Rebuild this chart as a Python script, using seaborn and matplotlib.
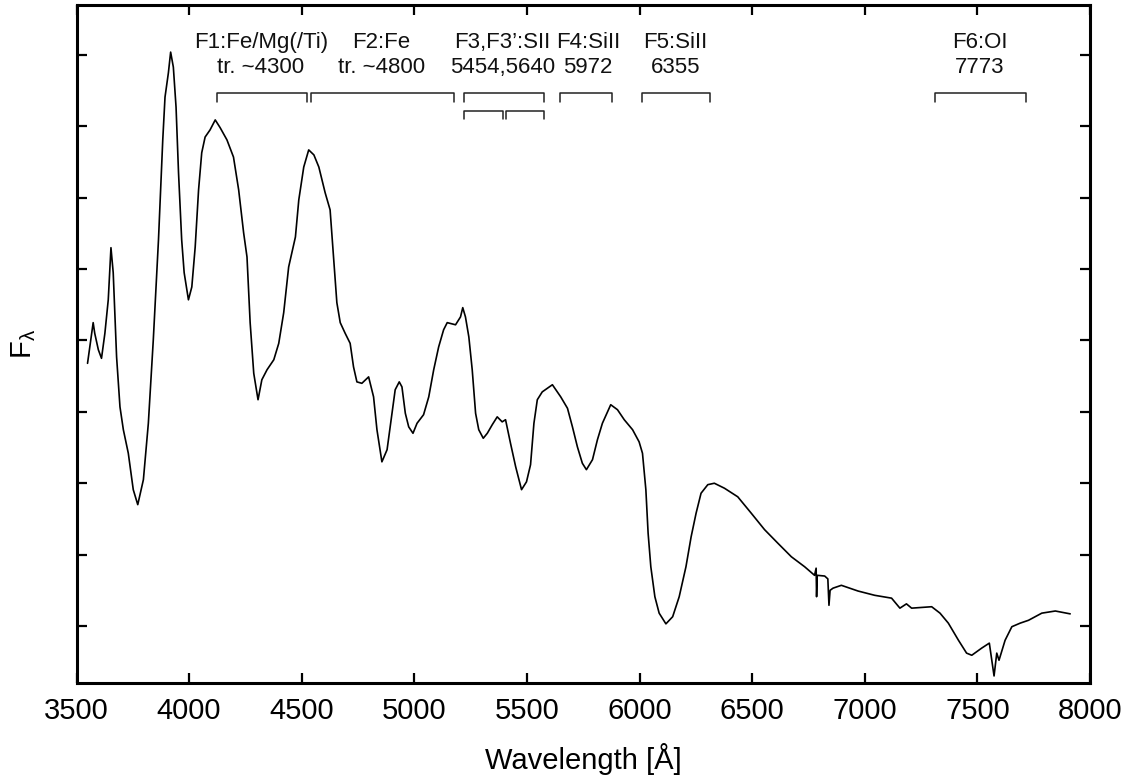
import numpy as np
import pandas as pd
import matplotlib
matplotlib.use("Agg")
import matplotlib.pyplot as plt
import seaborn as sns

# ---------------- data ----------------
wavelength = [3549, 3559, 3574, 3581, 3597, 3611, 3626, 3641, 3653, 3663,
              3678, 3693, 3708, 3730, 3752, 3772, 3797, 3819, 3841, 3864,
              3883, 3893, 3908, 3918, 3930, 3942, 3953, 3967, 3978, 3997,
              4012, 4027, 4042, 4056, 4071, 4093, 4116, 4138, 4168, 4197,
              4220, 4242, 4257, 4271, 4287, 4306, 4323, 4346, 4376, 4398,
              4420, 4442, 4472, 4487, 4509, 4531, 4554, 4576, 4604, 4626,
              4641, 4656, 4671, 4693, 4715, 4730, 4745, 4767, 4797, 4819,
              4834, 4856, 4879, 4901, 4915, 4933, 4945, 4960, 4975, 4994,
              5012, 5041, 5064, 5086, 5108, 5130, 5146, 5183, 5205, 5215,
              5227, 5242, 5257, 5272, 5286, 5306, 5324, 5346, 5368, 5390,
              5405, 5427, 5450, 5476, 5498, 5516, 5531, 5546, 5568, 5613,
              5650, 5680, 5702, 5724, 5746, 5764, 5791, 5813, 5835, 5858,
              5872, 5902, 5932, 5969, 5998, 6013, 6028, 6038, 6050, 6068,
              6087, 6117, 6147, 6176, 6206, 6229, 6251, 6273, 6303, 6332,
              6377, 6436, 6496, 6555, 6614, 6674, 6733, 6777, 6784, 6786,
              6789, 6822, 6836, 6841, 6846, 6859, 6896, 6970, 7044, 7119,
              7156, 7185, 7208, 7297, 7334, 7371, 7416, 7452, 7475, 7519,
              7553, 7564, 7574, 7586, 7596, 7623, 7653, 7690, 7727, 7786,
              7846, 7912]
flux = [4.68, 4.91, 5.25, 5.10, 4.87, 4.75, 5.10, 5.57, 6.30, 5.95,
        4.77, 4.07, 3.75, 3.42, 2.91, 2.70, 3.05, 3.84, 5.01, 6.41,
        7.81, 8.41, 8.75, 9.04, 8.83, 8.27, 7.35, 6.41, 5.95, 5.57,
        5.75, 6.31, 7.11, 7.63, 7.85, 7.95, 8.09, 7.98, 7.81, 7.57,
        7.11, 6.51, 6.17, 5.25, 4.54, 4.17, 4.45, 4.59, 4.73, 4.96,
        5.39, 6.03, 6.45, 6.97, 7.43, 7.67, 7.60, 7.43, 7.07, 6.83,
        6.17, 5.53, 5.25, 5.10, 4.96, 4.63, 4.42, 4.40, 4.49, 4.21,
        3.75, 3.30, 3.47, 3.98, 4.31, 4.42, 4.35, 3.98, 3.79, 3.70,
        3.84, 3.96, 4.21, 4.59, 4.91, 5.15, 5.25, 5.22, 5.33, 5.46,
        5.33, 5.05, 4.59, 3.98, 3.75, 3.63, 3.70, 3.82, 3.93, 3.86,
        3.89, 3.56, 3.23, 2.91, 3.02, 3.26, 3.84, 4.17, 4.28, 4.38,
        4.21, 4.05, 3.79, 3.51, 3.28, 3.19, 3.33, 3.61, 3.84, 4.00,
        4.10, 4.03, 3.89, 3.75, 3.58, 3.42, 2.91, 2.30, 1.83, 1.41,
        1.18, 1.03, 1.13, 1.41, 1.83, 2.25, 2.58, 2.86, 2.98, 3.00,
        2.93, 2.81, 2.58, 2.35, 2.16, 1.97, 1.83, 1.71, 1.81, 1.41,
        1.71, 1.70, 1.66, 1.29, 1.50, 1.53, 1.57, 1.49, 1.43, 1.39,
        1.25, 1.31, 1.25, 1.27, 1.18, 1.04, 0.80, 0.62, 0.59, 0.69,
        0.76, 0.52, 0.30, 0.62, 0.52, 0.80, 0.99, 1.04, 1.08, 1.18,
        1.21, 1.17]

feature_names = ["F1:Fe/Mg(/Ti)", "F2:Fe", "F3,F3\u2019:SII", "F4:SiII", "F5:SiII", "F6:OI"]
feature_lines = ["tr. ~4300", "tr. ~4800", "5454,5640", "5972", "6355", "7773"]
feature_center = [4318, 4854, 5390, 5770, 6160, 7510]
feature_start = [4126, 4540, 5220, 5645, 6013, 7311]
feature_end = [4522, 5175, 5576, 5877, 6314, 7715]
sub_start = [5220, 5409]
sub_end = [5393, 5576]

x_ticks = [3500, 4000, 4500, 5000, 5500, 6000, 6500, 7000, 7500, 8000]
y_ticks = [1, 2, 3, 4, 5, 6, 7, 8, 9]

# ---------------- style ----------------
sns.set_style("ticks")
plt.rcParams["font.family"] = ["Liberation Sans", "DejaVu Sans"]
plt.rcParams["mathtext.fontset"] = "custom"
plt.rcParams["mathtext.rm"] = "Liberation Sans"
plt.rcParams["mathtext.it"] = "Liberation Sans"
plt.rcParams["text.color"] = "black"
plt.rcParams["axes.labelcolor"] = "black"

fig = plt.figure(figsize=(11.38, 7.83), dpi=100)
ax = fig.add_axes([76.5 / 1138, 1 - 683 / 783, (1090 - 76.5) / 1138, (683 - 5) / 783])

df = pd.DataFrame({"wavelength": wavelength, "flux": flux})
sns.lineplot(data=df, x="wavelength", y="flux", ax=ax, color="black",
             linewidth=1.2, estimator=None, sort=False)

# annotation brackets
y_top, y_tick = 8.472, 8.346
y_sub_top, y_sub_tick = 8.220, 8.099
for s, e in zip(feature_start, feature_end):
    ax.plot([s, s, e, e], [y_tick, y_top, y_top, y_tick], color="#222222", lw=1.1)
for s, e in zip(sub_start, sub_end):
    ax.plot([s, s, e, e], [y_sub_tick, y_sub_top, y_sub_top, y_sub_tick], color="#222222", lw=1.1)

for c, n, l in zip(feature_center, feature_names, feature_lines):
    ax.text(c, 9.094, n, ha="center", va="baseline", fontsize=16, color="#111111")
    ax.text(c, 8.744, l, ha="center", va="baseline", fontsize=16, color="#111111")

ax.set_xlim(3500, 8000)
ax.set_ylim(0.2014, 9.70)
ax.set_xticks(x_ticks)
ax.set_yticks(y_ticks)
ax.tick_params(direction="in", length=7.2, width=1.6, top=True, right=True,
               labelleft=False, labelsize=21, pad=10, colors="black")
for sp in ax.spines.values():
    sp.set_visible(True)
    sp.set_linewidth(2.2)
    sp.set_color("black")

ax.set_xlabel("Wavelength [\u00c5]", fontsize=21, labelpad=13, color="black")
ax.set_ylabel(r"F$_\lambda$", fontsize=21, labelpad=28, color="black")

fig.savefig("out.png", dpi=100)
